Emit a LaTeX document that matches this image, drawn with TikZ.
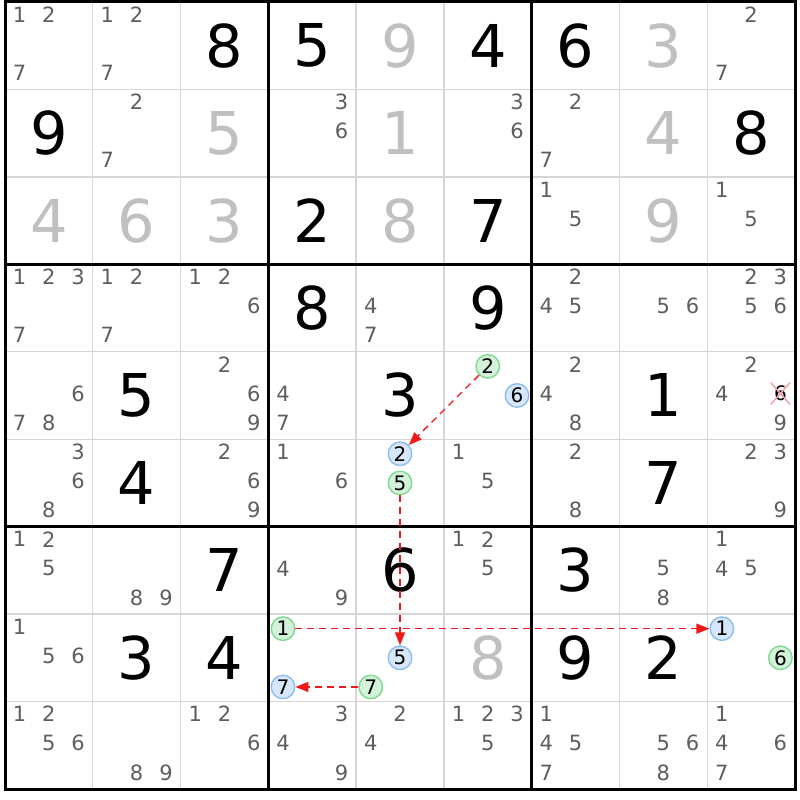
\documentclass[tikz,border=0pt]{standalone}
\usepackage{xcolor}
\usepackage{fontspec}
\setmainfont{DejaVu Sans}
\usepackage{tikz}
\usetikzlibrary{arrows.meta, shapes.misc}

\definecolor{gridgray}{HTML}{D6D6D6}
\definecolor{candgray}{HTML}{5E5E5E}
\definecolor{givengray}{HTML}{C0C0C0}
\definecolor{onfill}{HTML}{D4F2DA}
\definecolor{ondraw}{HTML}{7FD891}
\definecolor{offfill}{HTML}{D6E7FB}
\definecolor{offdraw}{HTML}{8DBDF0}
\definecolor{linkred}{HTML}{F01818}
\definecolor{strikepink}{HTML}{F4A0A8}

\tikzset{
    solved/.style={inner sep=0pt, font=\fontsize{59}{59}\selectfont},
    cand/.style={inner sep=0pt, text=candgray, font=\fontsize{21}{21}\selectfont},
    oncand/.style={circle, draw=ondraw, fill=onfill, line width=1.4pt, minimum size=23.5pt, inner sep=0pt, text=black, font=\fontsize{20}{20}\selectfont},
    offcand/.style={oncand, draw=offdraw, fill=offfill},
    struck/.style={cross out, draw=strikepink, line width=1.5pt, inner sep=2.5pt, text=black, font=\fontsize{20}{20}\selectfont},
    link/.style={draw=linkred, line width=1.3pt, dash pattern=on 7pt off 5pt, -{Triangle[length=13pt, width=10pt, fill=linkred]}},
    thinline/.style={gridgray, line width=1.3pt},
    boxline/.style={black, line width=2.6pt},
}

% cell (row, column) -> centre
\newcommand\placed[4]{\node[solved, text=#4] (r#1c#2) at ({5+(#2-0.5)*87.78},{2+(#1-0.5)*87.44}) {#3};}
% pencil marks of one cell
\newcommand\pencil[3]{\foreach \d in {#3}{%
    \pgfmathtruncatemacro\sx{mod(\d-1,3)}%
    \pgfmathtruncatemacro\sy{div(\d-1,3)}%
    \node[cand] (r#1c#2n\d) at ({5+(#2-1)*87.78+(\sx+0.5)*29.26},{2+(#1-1)*87.44+(\sy+0.5)*29.15-2}) {\d};}}
% one highlighted pencil mark
\newcommand\hilite[4]{%
    \pgfmathtruncatemacro\sx{mod(#3-1,3)}%
    \pgfmathtruncatemacro\sy{div(#3-1,3)}%
    \node[#4] (r#1c#2n#3) at ({5+(#2-1)*87.78+(\sx+0.5)*29.26},{2+(#1-1)*87.44+(\sy+0.5)*29.15}) {#3};}

\begin{document}
\begin{tikzpicture}[x=1pt, y=-1pt]
    \useasboundingbox[fill=white] (0,0) rectangle (800,800);

    % grid
    \foreach \i in {1,2,4,5,7,8} {
        \draw[thinline] ({5+\i*87.78},2) -- ({5+\i*87.78},789);
        \draw[thinline] (5,{2+\i*87.44}) -- (795,{2+\i*87.44});
    }
    \foreach \i in {3,6} {
        \draw[boxline] ({5+\i*87.78},2) -- ({5+\i*87.78},789);
        \draw[boxline] (5,{2+\i*87.44}) -- (795,{2+\i*87.44});
    }
    \draw[boxline, line width=3pt] (5,2) rectangle (795,789);

    % row 1
    \pencil{1}{1}{1,2,7}
    \pencil{1}{2}{1,2,7}
    \placed{1}{3}{8}{black}
    \placed{1}{4}{5}{black}
    \placed{1}{5}{9}{givengray}
    \placed{1}{6}{4}{black}
    \placed{1}{7}{6}{black}
    \placed{1}{8}{3}{givengray}
    \pencil{1}{9}{2,7}

    % row 2
    \placed{2}{1}{9}{black}
    \pencil{2}{2}{2,7}
    \placed{2}{3}{5}{givengray}
    \pencil{2}{4}{3,6}
    \placed{2}{5}{1}{givengray}
    \pencil{2}{6}{3,6}
    \pencil{2}{7}{2,7}
    \placed{2}{8}{4}{givengray}
    \placed{2}{9}{8}{black}

    % row 3
    \placed{3}{1}{4}{givengray}
    \placed{3}{2}{6}{givengray}
    \placed{3}{3}{3}{givengray}
    \placed{3}{4}{2}{black}
    \placed{3}{5}{8}{givengray}
    \placed{3}{6}{7}{black}
    \pencil{3}{7}{1,5}
    \placed{3}{8}{9}{givengray}
    \pencil{3}{9}{1,5}

    % row 4
    \pencil{4}{1}{1,2,3,7}
    \pencil{4}{2}{1,2,7}
    \pencil{4}{3}{1,2,6}
    \placed{4}{4}{8}{black}
    \pencil{4}{5}{4,7}
    \placed{4}{6}{9}{black}
    \pencil{4}{7}{2,4,5}
    \pencil{4}{8}{5,6}
    \pencil{4}{9}{2,3,5,6}

    % row 5
    \pencil{5}{1}{6,7,8}
    \placed{5}{2}{5}{black}
    \pencil{5}{3}{2,6,9}
    \pencil{5}{4}{4,7}
    \placed{5}{5}{3}{black}
    \hilite{5}{6}{2}{oncand}
    \hilite{5}{6}{6}{offcand}
    \pencil{5}{7}{2,4,8}
    \placed{5}{8}{1}{black}
    \pencil{5}{9}{2,4,9}
    \node[struck] (r5c9n6) at ({5+8*87.78+2.5*29.26},{2+4*87.44+1.5*29.15-2}) {6};

    % row 6
    \pencil{6}{1}{3,6,8}
    \placed{6}{2}{4}{black}
    \pencil{6}{3}{2,6,9}
    \pencil{6}{4}{1,6}
    \hilite{6}{5}{2}{offcand}
    \hilite{6}{5}{5}{oncand}
    \pencil{6}{6}{1,5}
    \pencil{6}{7}{2,8}
    \placed{6}{8}{7}{black}
    \pencil{6}{9}{2,3,9}

    % row 7
    \pencil{7}{1}{1,2,5}
    \pencil{7}{2}{8,9}
    \placed{7}{3}{7}{black}
    \pencil{7}{4}{4,9}
    \placed{7}{5}{6}{black}
    \pencil{7}{6}{1,2,5}
    \placed{7}{7}{3}{black}
    \pencil{7}{8}{5,8}
    \pencil{7}{9}{1,4,5}

    % row 8
    \pencil{8}{1}{1,5,6}
    \placed{8}{2}{3}{black}
    \placed{8}{3}{4}{black}
    \hilite{8}{4}{1}{oncand}
    \hilite{8}{4}{7}{offcand}
    \hilite{8}{5}{5}{offcand}
    \hilite{8}{5}{7}{oncand}
    \placed{8}{6}{8}{givengray}
    \placed{8}{7}{9}{black}
    \placed{8}{8}{2}{black}
    \hilite{8}{9}{1}{offcand}
    \hilite{8}{9}{6}{oncand}

    % row 9
    \pencil{9}{1}{1,2,5,6}
    \pencil{9}{2}{8,9}
    \pencil{9}{3}{1,2,6}
    \pencil{9}{4}{3,4,9}
    \pencil{9}{5}{2,4}
    \pencil{9}{6}{1,2,3,5}
    \pencil{9}{7}{1,4,5,7}
    \pencil{9}{8}{5,6,8}
    \pencil{9}{9}{1,4,6,7}

    % chain
    \draw[link] (r5c6n2) -- (r6c5n2);
    \draw[link] (r6c5n5) -- (r8c5n5);
    \draw[link] (r8c4n1) -- (r8c9n1);
    \draw[link] (r8c5n7) -- (r8c4n7);
\end{tikzpicture}
\end{document}
